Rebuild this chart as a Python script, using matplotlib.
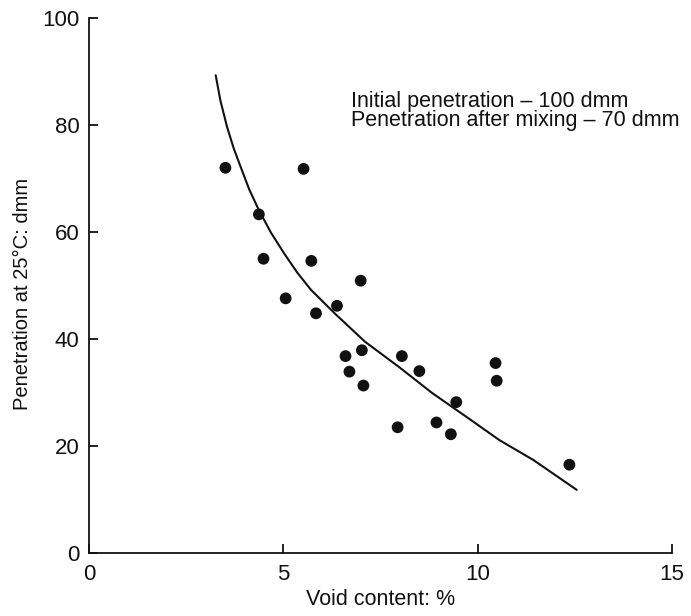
import matplotlib
matplotlib.use("Agg")
import matplotlib.pyplot as plt

plt.rcParams['font.family'] = ['Liberation Sans', 'DejaVu Sans']

# Measured data points (void content %, penetration dmm)
void_content = [3.51, 5.52, 4.37, 4.49, 5.72, 6.99, 5.06, 5.84, 6.38, 6.60, 7.02,
                6.70, 7.06, 8.05, 8.50, 7.94, 8.94, 9.31, 9.45, 10.46, 10.49, 12.36]
penetration = [72.0, 71.8, 63.3, 55.0, 54.6, 50.9, 47.6, 44.8, 46.2, 36.8, 37.9,
               33.9, 31.3, 36.8, 34.0, 23.5, 24.4, 22.2, 28.2, 35.5, 32.2, 16.5]

# Trend curve
curve_x = [3.26, 3.38, 3.55, 3.72, 3.90, 4.12, 4.37, 4.68, 5.02, 5.36, 5.71, 6.32, 7.10,
           7.97, 8.83, 9.70, 10.56, 11.43, 12.55]
curve_y = [89.3, 84.6, 79.7, 75.7, 72.2, 68.0, 64.1, 59.9, 56.0, 52.4, 49.2, 44.8, 39.5,
           34.8, 29.9, 25.5, 21.1, 17.4, 11.8]

x_ticks = [0, 5, 10, 15]
y_ticks = [0, 20, 40, 60, 80, 100]

note_lines = ['Initial penetration – 100 dmm', 'Penetration after mixing – 70 dmm']

ink = '#111111'

fig = plt.figure(figsize=(6.91, 6.16), dpi=100)
ax = fig.add_axes([89/691, 1-553/616, (672-89)/691, (553-18)/616])

ax.plot(curve_x, curve_y, color=ink, lw=1.5, solid_capstyle='round', solid_joinstyle='round')
ax.scatter(void_content, penetration, s=72, color=ink, zorder=3, edgecolors='none')

ax.set_xlim(0, 15)
ax.set_ylim(0, 100)
ax.set_xticks(x_ticks)
ax.set_yticks(y_ticks)
for s in ['top', 'right']:
    ax.spines[s].set_visible(False)
for s in ['left', 'bottom']:
    ax.spines[s].set_linewidth(1.3)
    ax.spines[s].set_color(ink)
ax.tick_params(direction='in', length=6.5, width=1.3, colors=ink, labelsize=16)
ax.tick_params(axis='x', pad=8)
ax.tick_params(axis='y', pad=7)

ax.set_xlabel('Void content: %', fontsize=15.5, color=ink, labelpad=3)
ax.set_ylabel('Penetration at 25°C: dmm', fontsize=14.5, color=ink, labelpad=7)
ax.yaxis.label.set_y(0.484)

ax.text(6.75, 83.4, note_lines[0], fontsize=15.5, color=ink, va='baseline', ha='left')
ax.text(6.75, 79.8, note_lines[1], fontsize=15.5, color=ink, va='baseline', ha='left')

fig.savefig('out.png', dpi=100)
